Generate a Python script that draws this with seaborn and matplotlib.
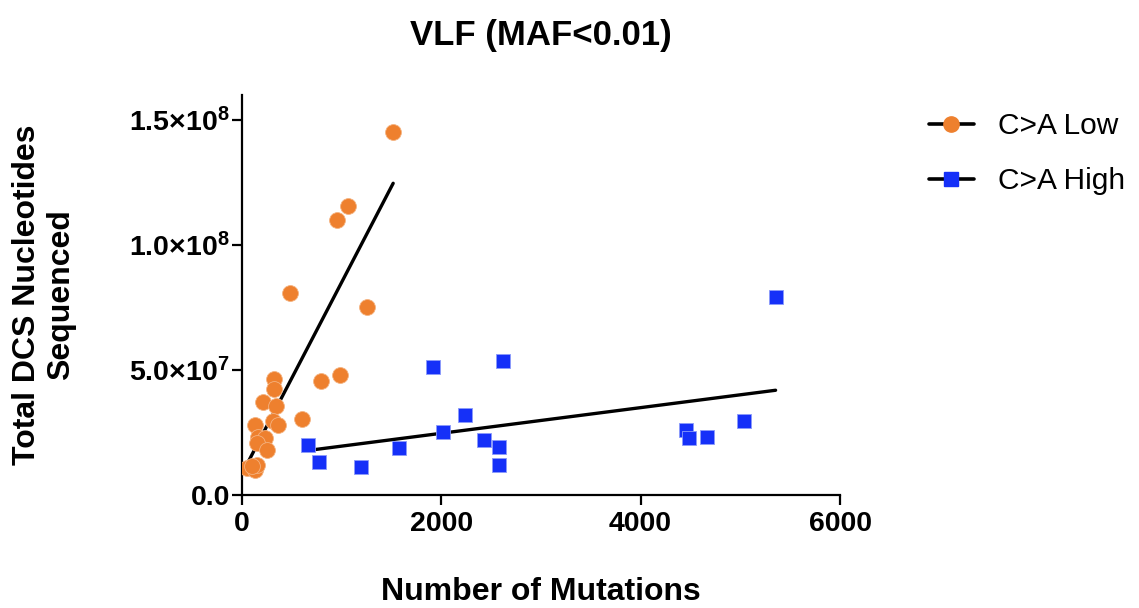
import numpy as np
import pandas as pd
import matplotlib
matplotlib.use("Agg")
import matplotlib.pyplot as plt
from matplotlib.lines import Line2D
from matplotlib.ticker import FixedLocator
import seaborn as sns

# ---- data ----
low_x = [1519, 1068, 952, 484, 1252, 985, 791, 327, 327, 217, 344, 607, 317, 367,
         133, 167, 233, 150, 250, 50, 133, 150, 100]
low_y = [145.1e6, 115.6e6, 110.0e6, 80.7e6, 75.1e6, 47.9e6, 45.6e6, 46.3e6, 42.5e6,
         37.3e6, 35.6e6, 30.3e6, 29.7e6, 28.0e6, 28.0e6, 23.3e6, 22.7e6, 20.7e6,
         18.0e6, 10.7e6, 10.0e6, 12.0e6, 11.5e6]
high_x = [664, 776, 1198, 1575, 1915, 2015, 2241, 2426, 2581, 2581, 2618,
          4460, 4489, 4667, 5040, 5354]
high_y = [20.0e6, 13.2e6, 11.2e6, 18.6e6, 51.3e6, 25.0e6, 32.1e6, 22.0e6, 19.3e6,
          12.1e6, 53.6e6, 25.9e6, 22.9e6, 23.3e6, 29.6e6, 79.2e6]
series_names = ["C>A Low", "C>A High"]
x_ticks = [0, 2000, 4000, 6000]
y_ticks = [0, 5e7, 1e8, 1.5e8]
y_tick_labels = ["0.0", "5.0×10$^{7}$", "1.0×10$^{8}$", "1.5×10$^{8}$"]

ORANGE = "#EE802E"
BLUE = "#1530F8"

sns.set_theme(style="ticks")
plt.rcParams["font.family"] = ["Liberation Sans", "DejaVu Sans"]
plt.rcParams["mathtext.fontset"] = "custom"
plt.rcParams["mathtext.rm"] = "Liberation Sans:bold"
plt.rcParams["mathtext.it"] = "Liberation Sans:bold"
plt.rcParams["mathtext.bf"] = "Liberation Sans:bold"
plt.rcParams["text.color"] = "black"
plt.rcParams["axes.labelcolor"] = "black"
plt.rcParams["xtick.color"] = "black"
plt.rcParams["ytick.color"] = "black"

df_low = pd.DataFrame({"x": low_x, "y": low_y})
df_high = pd.DataFrame({"x": high_x, "y": high_y})

fig = plt.figure(figsize=(11.39, 6.08), dpi=100)
ax = fig.add_axes([0.2122, 0.1859, 0.5253, 0.6579])

sns.regplot(data=df_low, x="x", y="y", ax=ax, ci=None, truncate=True, marker="o",
            scatter_kws=dict(s=130, color=ORANGE, edgecolor="#F4B27F",
                             linewidths=0.6, alpha=1, zorder=3),
            line_kws=dict(color="black", lw=2.4, zorder=2))
sns.regplot(data=df_high, x="x", y="y", ax=ax, ci=None, truncate=True, marker="s",
            scatter_kws=dict(s=110, color=BLUE, edgecolor="#8C9BFA",
                             linewidths=0.6, alpha=1, zorder=3),
            line_kws=dict(color="black", lw=2.4, zorder=2))

ax.set_xlim(0, 6000)
ax.set_ylim(0, 1.6e8)
ax.xaxis.set_major_locator(FixedLocator(x_ticks))
ax.set_xticklabels([str(t) for t in x_ticks])
ax.yaxis.set_major_locator(FixedLocator(y_ticks))
ax.set_yticklabels(y_tick_labels)
for lab in ax.get_xticklabels() + ax.get_yticklabels():
    lab.set_fontweight("bold")
    lab.set_fontsize(20.5)
ax.tick_params(axis="both", direction="out", length=7.5, width=1.6, color="black")
ax.tick_params(axis="y", pad=1)
ax.tick_params(axis="x", pad=4)
for side in ["top", "right"]:
    ax.spines[side].set_visible(False)
for side in ["left", "bottom"]:
    ax.spines[side].set_linewidth(1.6)
    ax.spines[side].set_color("black")

ax.set_xlabel("Number of Mutations", fontsize=23, fontweight="bold", labelpad=29)
ax.set_ylabel("Total DCS Nucleotides\nSequenced", fontsize=23, fontweight="bold",
              labelpad=38, linespacing=1.2)
ax.set_title("VLF (MAF<0.01)", fontsize=25, fontweight="bold", pad=36)

handles = [
    Line2D([], [], color="black", lw=2.6, marker="o", markersize=11,
           markerfacecolor=ORANGE, markeredgecolor=ORANGE),
    Line2D([], [], color="black", lw=2.6, marker="s", markersize=10,
           markerfacecolor=BLUE, markeredgecolor=BLUE),
]
leg = fig.legend(handles, series_names, loc="upper left",
                 bbox_to_anchor=(929 / 1139, 1 - 112 / 608),
                 frameon=False, fontsize=21.5, handlelength=1.5, handletextpad=0.8,
                 labelspacing=0.92, borderpad=0, borderaxespad=0)

fig.savefig("out.png", dpi=100)
